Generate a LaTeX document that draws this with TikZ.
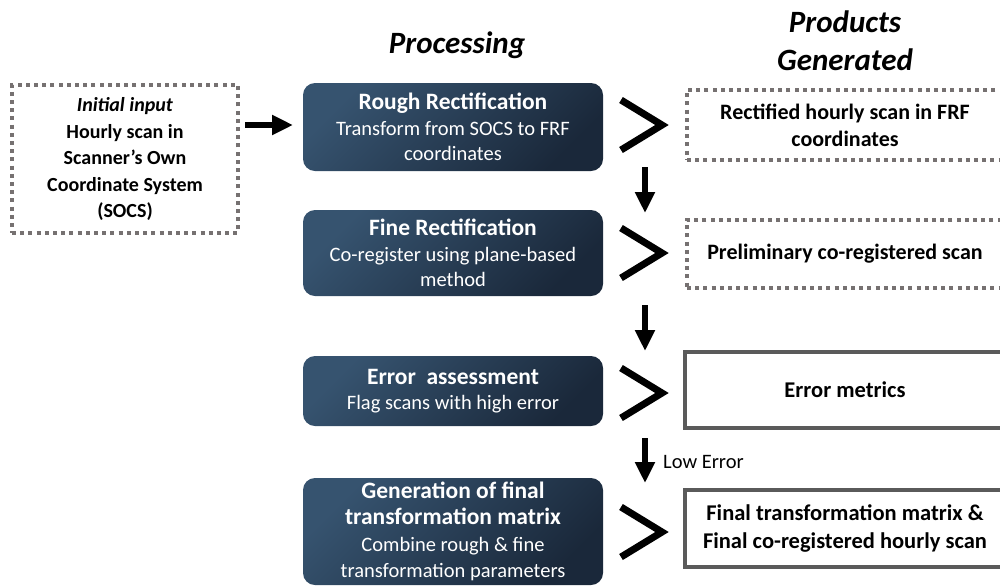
\documentclass[tikz,border=0pt]{standalone}
\usepackage{fontspec}
\setmainfont{Carlito}
\usetikzlibrary{arrows.meta}
\definecolor{navyA}{HTML}{36536F}
\definecolor{navyB}{HTML}{1A283A}
\definecolor{dotgray}{HTML}{767171}
\definecolor{boxgray}{HTML}{5A5A5A}
\newcommand{\hd}[1]{{\bfseries\fontsize{23.5}{25.5}\selectfont #1}}
\begin{document}
\begin{tikzpicture}[x=1pt,y=-1pt,
  procbox/.style={rounded corners=12pt, top color=navyA, bottom color=navyB, shading angle=45,
    text=white, align=center, minimum width=300pt, inner sep=0pt,
    font=\fontsize{20.5}{25.5}\selectfont},
  dotbox/.style={draw=dotgray, line width=4pt, dash pattern=on 4pt off 4.2pt, align=center,
    inner sep=0pt, font=\bfseries\fontsize{22}{27}\selectfont},
  solidbox/.style={draw=boxgray, line width=4pt, align=center, inner sep=0pt,
    font=\bfseries\fontsize{22.5}{28}\selectfont},
  chev/.style={line width=7pt, line join=miter, miter limit=10},
  bigarrow/.style={line width=5.5pt, -{Triangle[width=19pt,length=21pt]}},
  title/.style={font=\bfseries\itshape\fontsize{31}{38}\selectfont, align=center}
]
\useasboundingbox (0,0) rectangle (1000,587);
% titles
\node[title] (tproc) at (457,45) {Processing};
\node[title] (tprod) at (845,41) {Products\\Generated};
% input
\node[dotbox, minimum width=226pt, minimum height=148pt, font=\bfseries\fontsize{20}{26.5}\selectfont] (input) at (125,159)
  {\textit{Initial input}\\Hourly scan in\\Scanner’s Own\\Coordinate System\\(SOCS)};
% processing boxes
\node[procbox, minimum height=88pt] (rough) at (453,127)
  {\hd{Rough Rectification}\\Transform from SOCS to FRF\\coordinates};
\node[procbox, minimum height=86pt] (fine) at (453,253)
  {\hd{Fine Rectification}\\Co-register using plane-based\\method};
\node[procbox, minimum height=70pt] (err) at (453,391)
  {\hd{Error\ \ assessment}\\Flag scans with high error};
\node[procbox, minimum height=107pt, font=\fontsize{20.5}{26.5}\selectfont] (gen) at (453,531.5)
  {\hd{Generation of final}\\\hd{transformation matrix}\\Combine rough \& fine\\transformation parameters};
% products
\node[dotbox, minimum width=316pt, minimum height=70pt] (rect) at (845,125)
  {Rectified hourly scan in FRF\\coordinates};
\node[dotbox, minimum width=316pt, minimum height=68pt] (prel) at (845,254)
  {Preliminary co-registered scan};
\node[solidbox, minimum width=320pt, minimum height=76pt] (metr) at (845,390)
  {Error metrics};
\node[solidbox, minimum width=320pt, minimum height=77pt] (final) at (845,528.5)
  {Final transformation matrix \&\\Final co-registered hourly scan};
% input arrow
\coordinate (ia) at (245,125);
\coordinate (ib) at (293,125);
\draw[bigarrow] (ia) -- (ib);
% chevrons
\foreach \n/\y in {c1/125, c2/253, c3/393, c4/532}{
  \coordinate (\n t) at (621,\y-25);
  \coordinate (\n m) at (662,\y);
  \coordinate (\n b) at (621,\y+25);
  \draw[chev] (\n t) -- (\n m) -- (\n b);
}
% down arrows
\coordinate (d1a) at (645,167); \coordinate (d1b) at (645,213);
\coordinate (d2a) at (645,305); \coordinate (d2b) at (645,351);
\coordinate (d3a) at (645,438); \coordinate (d3b) at (645,483);
\draw[bigarrow] (d1a) -- (d1b);
\draw[bigarrow] (d2a) -- (d2b);
\draw[bigarrow] (d3a) -- (d3b);
\node[anchor=west, font=\fontsize{20.5}{22}\selectfont, inner sep=0pt] (low) at (663,462) {Low Error};
\end{tikzpicture}
\end{document}
